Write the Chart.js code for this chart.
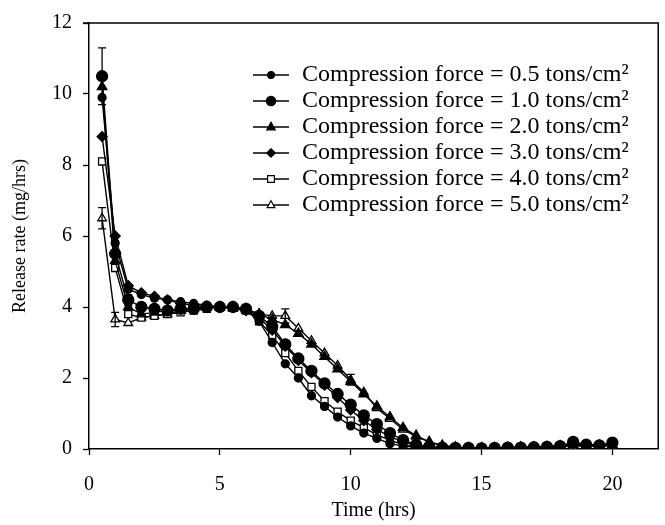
<!DOCTYPE html>
<html>
<head>
<meta charset="utf-8">
<script src="https://cdn.jsdelivr.net/npm/chart.js@4.4.1/dist/chart.umd.min.js"></script>
<style>
body { margin: 0; background: #fff; }
#wrap { width: 665px; height: 525px; }
</style>
</head>
<body>
<div id="wrap"><canvas id="releaseChart" width="665" height="525"></canvas></div>
<script>
const times = [0.5, 1, 1.5, 2, 2.5, 3, 3.5, 4, 4.5, 5, 5.5, 6, 6.5, 7, 7.5, 8, 8.5, 9, 9.5, 10,
    10.5, 11, 11.5, 12, 12.5, 13, 13.5, 14, 14.5, 15, 15.5, 16, 16.5, 17, 17.5, 18, 18.5, 19, 19.5, 20];

const force05 = [9.9, 5.8, 4.5, 4.35, 4.25, 4.2, 4.15, 4.1, 4.05, 4.0, 4.0, 3.95, 3.6, 3.0, 2.4, 2.0, 1.5, 1.2, 0.9, 0.65,
    0.45, 0.3, 0.15, 0.08, 0.05, 0.04, 0.03, 0.03, 0.02, 0.03, 0.04, 0.05, 0.05, 0.06, 0.08, 0.1, 0.15, 0.12, 0.12, 0.15];
const force10 = [10.5, 5.5, 4.2, 4.0, 3.95, 3.9, 3.95, 3.95, 4.0, 4.0, 4.0, 3.95, 3.75, 3.45, 2.95, 2.55, 2.2, 1.85, 1.55, 1.25,
    0.95, 0.7, 0.45, 0.25, 0.12, 0.06, 0.04, 0.03, 0.03, 0.02, 0.03, 0.04, 0.04, 0.05, 0.06, 0.08, 0.2, 0.12, 0.1, 0.18];
const force20 = [10.2, 5.3, 4.0, 3.8, 3.85, 3.9, 3.9, 3.95, 4.0, 4.0, 4.0, 3.95, 3.8, 3.65, 3.5, 3.25, 2.95, 2.6, 2.25, 1.9,
    1.55, 1.2, 0.9, 0.6, 0.38, 0.2, 0.1, 0.05, 0.03, 0.03, 0.03, 0.04, 0.05, 0.05, 0.06, 0.08, 0.12, 0.1, 0.1, 0.12];
const force30 = [8.8, 6.0, 4.6, 4.4, 4.3, 4.2, 4.1, 4.05, 4.0, 4.0, 4.0, 3.9, 3.7, 3.35, 2.9, 2.5, 2.15, 1.8, 1.45, 1.1,
    0.8, 0.55, 0.35, 0.2, 0.1, 0.06, 0.04, 0.03, 0.03, 0.03, 0.04, 0.04, 0.05, 0.06, 0.06, 0.08, 0.15, 0.1, 0.1, 0.12];
const force40 = [8.1, 5.1, 3.8, 3.7, 3.75, 3.8, 3.85, 3.9, 3.95, 4.0, 4.0, 3.9, 3.6, 3.2, 2.7, 2.2, 1.75, 1.35, 1.05, 0.8,
    0.6, 0.4, 0.25, 0.12, 0.05, 0.03, 0.02, 0.02, 0.02, 0.03, 0.03, 0.04, 0.04, 0.05, 0.05, 0.06, 0.1, 0.08, 0.08, 0.1];
const force50 = [6.5, 3.65, 3.55, 3.7, 3.75, 3.8, 3.9, 3.95, 4.0, 4.0, 3.95, 3.9, 3.8, 3.75, 3.75, 3.4, 3.05, 2.7, 2.35, 1.95,
    1.6, 1.15, 0.85, 0.55, 0.35, 0.2, 0.1, 0.05, 0.03, 0.02, 0.03, 0.03, 0.04, 0.05, 0.05, 0.06, 0.1, 0.08, 0.08, 0.1];

// standard deviations (only the visible ones)
const err10 = [0.8, 0.3, 0.15, 0.1, 0, 0, 0, 0, 0, 0, 0, 0, 0, 0, 0, 0, 0, 0, 0, 0,
    0, 0, 0, 0, 0, 0, 0, 0, 0, 0, 0, 0, 0, 0, 0, 0, 0, 0, 0, 0];
const err50 = [0.3, 0.2, 0, 0, 0, 0, 0, 0, 0, 0, 0, 0, 0, 0, 0.2, 0, 0, 0, 0, 0.15,
    0, 0, 0, 0, 0, 0, 0, 0, 0, 0, 0, 0, 0, 0, 0, 0, 0, 0, 0, 0];

const seriesLabels = [
    'Compression force = 0.5 tons/cm²',
    'Compression force = 1.0 tons/cm²',
    'Compression force = 2.0 tons/cm²',
    'Compression force = 3.0 tons/cm²',
    'Compression force = 4.0 tons/cm²',
    'Compression force = 5.0 tons/cm²'
];
const xTicks = [0, 5, 10, 15, 20];
const yTicks = [0, 2, 4, 6, 8, 10, 12];

const fontFamily = "'Liberation Serif', 'Times New Roman', serif";

const markers = [
    { style: 'circle', radius: 4, fill: '#000' },
    { style: 'circle', radius: 5.5, fill: '#000' },
    { style: 'triangle', radius: 5.5, fill: '#000' },
    { style: 'rectRot', radius: 5, fill: '#000' },
    { style: 'rect', radius: 5, fill: '#fff' },
    { style: 'triangle', radius: 5, fill: '#fff' }
];

function drawMarker(g, style, r, x, y) {
    g.beginPath();
    if (style === 'circle') {
        g.arc(x, y, r, 0, Math.PI * 2);
    } else if (style === 'rect') {
        g.rect(x - r * 0.8, y - r * 0.8, r * 1.6, r * 1.6);
    } else if (style === 'rectRot') {
        g.moveTo(x, y - r); g.lineTo(x + r, y); g.lineTo(x, y + r); g.lineTo(x - r, y);
        g.closePath();
    } else if (style === 'triangle') {
        g.moveTo(x, y - r); g.lineTo(x + r * 0.9, y + r * 0.6); g.lineTo(x - r * 0.9, y + r * 0.6);
        g.closePath();
    }
    g.fill();
    g.stroke();
}

function legendSymbol(m) {
    const c = document.createElement('canvas');
    c.width = 38;
    c.height = 14;
    const g = c.getContext('2d');
    g.strokeStyle = '#000';
    g.lineWidth = 1.6;
    g.beginPath();
    g.moveTo(1, 7);
    g.lineTo(37, 7);
    g.stroke();
    g.fillStyle = m.fill;
    g.lineWidth = 1.2;
    drawMarker(g, m.style, m.radius * 0.85, 19, 7);
    return c;
}
const symbols = markers.map(legendSymbol);

const seriesValues = [force05, force10, force20, force30, force40, force50];
const seriesErrors = [null, err10, null, null, null, err50];

const datasets = seriesValues.map((vals, i) => ({
    label: seriesLabels[i],
    data: times.map((t, j) => ({ x: t, y: vals[j] })),
    errorBars: seriesErrors[i],
    borderColor: '#000',
    borderWidth: 1.4,
    pointStyle: markers[i].style,
    pointRadius: markers[i].radius,
    pointBackgroundColor: markers[i].fill,
    pointBorderColor: '#000',
    pointBorderWidth: 1.3,
    tension: 0,
    fill: false
}));

const errorBarPlugin = {
    id: 'errorBars',
    afterDatasetsDraw(chart) {
        const ctx = chart.ctx;
        const xs = chart.scales.x;
        const ys = chart.scales.y;
        ctx.save();
        ctx.strokeStyle = '#000';
        ctx.lineWidth = 1.3;
        chart.data.datasets.forEach(ds => {
            if (!ds.errorBars) return;
            ds.data.forEach((p, j) => {
                const e = ds.errorBars[j];
                if (!e) return;
                const px = xs.getPixelForValue(p.x);
                const top = ys.getPixelForValue(p.y + e);
                const bot = ys.getPixelForValue(p.y - e);
                ctx.beginPath();
                ctx.moveTo(px, top); ctx.lineTo(px, bot);
                ctx.moveTo(px - 4, top); ctx.lineTo(px + 4, top);
                ctx.moveTo(px - 4, bot); ctx.lineTo(px + 4, bot);
                ctx.stroke();
            });
        });
        ctx.restore();
    }
};

const framePlugin = {
    id: 'frame',
    afterLayout(chart) {
        // legend sits inside the plot, upper right
        const lg = chart.legend;
        if (lg) {
            const w = lg.width, h = lg.height;
            lg.left = 250;
            lg.top = 61;
            lg.right = lg.left + w;
            lg.bottom = lg.top + h;
        }
    },
    beforeDatasetsDraw(chart) {
        const a = chart.chartArea;
        const ctx = chart.ctx;
        ctx.save();
        ctx.strokeStyle = '#000';
        ctx.lineWidth = 1.5;
        ctx.beginPath();
        ctx.moveTo(a.left - 6, a.top);
        ctx.lineTo(a.right, a.top);
        ctx.lineTo(a.right, a.bottom);
        ctx.stroke();
        ctx.restore();
    }
};

new Chart(document.getElementById('releaseChart'), {
    type: 'line',
    data: { datasets: datasets },
    plugins: [errorBarPlugin, framePlugin],
    options: {
        responsive: false,
        animation: false,
        layout: { padding: { top: 23, right: 2, left: 0, bottom: 0 } },
        scales: {
            x: {
                type: 'linear',
                min: 0,
                max: 21.75,
                afterBuildTicks: s => { s.ticks = xTicks.map(v => ({ value: v })); },
                afterFit: s => { s.height = 76; },
                grid: { display: true, drawOnChartArea: false, drawTicks: true, tickLength: 6, tickColor: '#000', tickWidth: 1.3 },
                border: { display: true, color: '#000', width: 1.5 },
                ticks: { color: '#000', font: { family: fontFamily, size: 20 }, padding: 18, maxRotation: 0 },
                title: { display: true, text: 'Time (hrs)', color: '#000', font: { family: fontFamily, size: 20 }, padding: { top: 0, bottom: 2 } }
            },
            y: {
                type: 'linear',
                min: 0,
                max: 12,
                afterBuildTicks: s => { s.ticks = yTicks.map(v => ({ value: v })); },
                afterFit: s => { s.width = 89; },
                grid: { display: true, drawOnChartArea: false, drawTicks: true, tickLength: 6, tickColor: '#000', tickWidth: 1.3 },
                border: { display: true, color: '#000', width: 1.5 },
                ticks: { color: '#000', font: { family: fontFamily, size: 20 }, padding: 11 },
                title: { display: true, text: 'Release rate (mg/hrs)', color: '#000', font: { family: fontFamily, size: 18 }, padding: { top: 9, bottom: 0 } }
            }
        },
        plugins: {
            legend: {
                position: 'chartArea',
                align: 'start',
                labels: {
                    usePointStyle: true,
                    pointStyleWidth: 38,
                    padding: 2,
                    color: '#000',
                    font: { family: fontFamily, size: 24 },
                    generateLabels: chart => chart.data.datasets.map((ds, i) => ({
                        text: ds.label,
                        pointStyle: symbols[i],
                        datasetIndex: i,
                        hidden: false,
                        fontColor: '#000',
                        lineWidth: 0,
                        fillStyle: 'transparent',
                        strokeStyle: 'transparent'
                    }))
                }
            },
            tooltip: { enabled: false }
        }
    }
});
</script>
</body>
</html>
